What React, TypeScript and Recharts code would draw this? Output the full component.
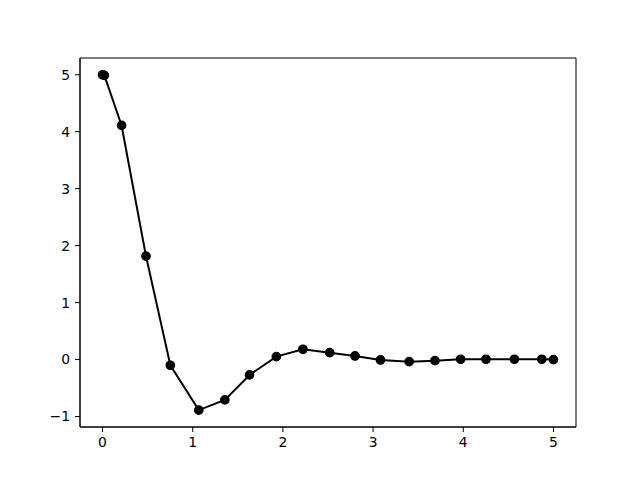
import { LineChart, Line, XAxis, YAxis, ReferenceArea } from "recharts";

const xValues = [
  0, 0.02, 0.211, 0.482, 0.752, 1.067, 1.356, 1.63, 1.927, 2.222, 2.519, 2.8,
  3.082, 3.4, 3.686, 3.971, 4.252, 4.567, 4.871, 5.0,
];
const yValues = [
  5.0, 4.99, 4.11, 1.815, -0.1, -0.888, -0.708, -0.27, 0.051, 0.18, 0.121, 0.063,
  -0.007, -0.037, -0.019, 0.005, 0.005, 0.005, 0.005, 0.0,
];
const xTicks = [0, 1, 2, 3, 4, 5];
const yTicks = [-1, 0, 1, 2, 3, 4, 5];

const X_DOMAIN: [number, number] = [-0.25, 5.25];
const Y_DOMAIN: [number, number] = [-1.184, 5.294];

const data = xValues.map((x, i) => ({ x, y: yValues[i] }));

const fmt = (v: number) => String(v).replace("-", "\u2212");

const tickStyle = { fill: "#000", fontSize: 13.9, fontFamily: "DejaVu Sans" };

export default function App() {
  return (
    <div style={{ width: 640, height: 480, background: "#fff" }}>
      <style>{`body{margin:0}`}</style>
      <LineChart
        width={640}
        height={480}
        data={data}
        margin={{ top: 58, right: 64, left: 40, bottom: 23 }}
      >
        <XAxis
          dataKey="x"
          type="number"
          domain={X_DOMAIN}
          ticks={xTicks}
          tickFormatter={fmt}
          allowDataOverflow
          height={30}
          tick={tickStyle}
          tickSize={5}
          tickMargin={5}
          stroke="#000"
        />
        <YAxis
          type="number"
          domain={Y_DOMAIN}
          ticks={yTicks}
          tickFormatter={fmt}
          allowDataOverflow
          width={40}
          tick={tickStyle}
          tickSize={5}
          tickMargin={5}
          stroke="#000"
        />
        <ReferenceArea
          x1={X_DOMAIN[0]}
          x2={X_DOMAIN[1]}
          y1={Y_DOMAIN[0]}
          y2={Y_DOMAIN[1]}
          fill="none"
          stroke="#000"
          strokeWidth={1}
          fillOpacity={0}
        />
        <Line
          dataKey="y"
          type="linear"
          stroke="#000"
          strokeWidth={2}
          dot={{ r: 4.2, fill: "#000", stroke: "#000", strokeWidth: 1.3 }}
          isAnimationActive={false}
        />
      </LineChart>
    </div>
  );
}
